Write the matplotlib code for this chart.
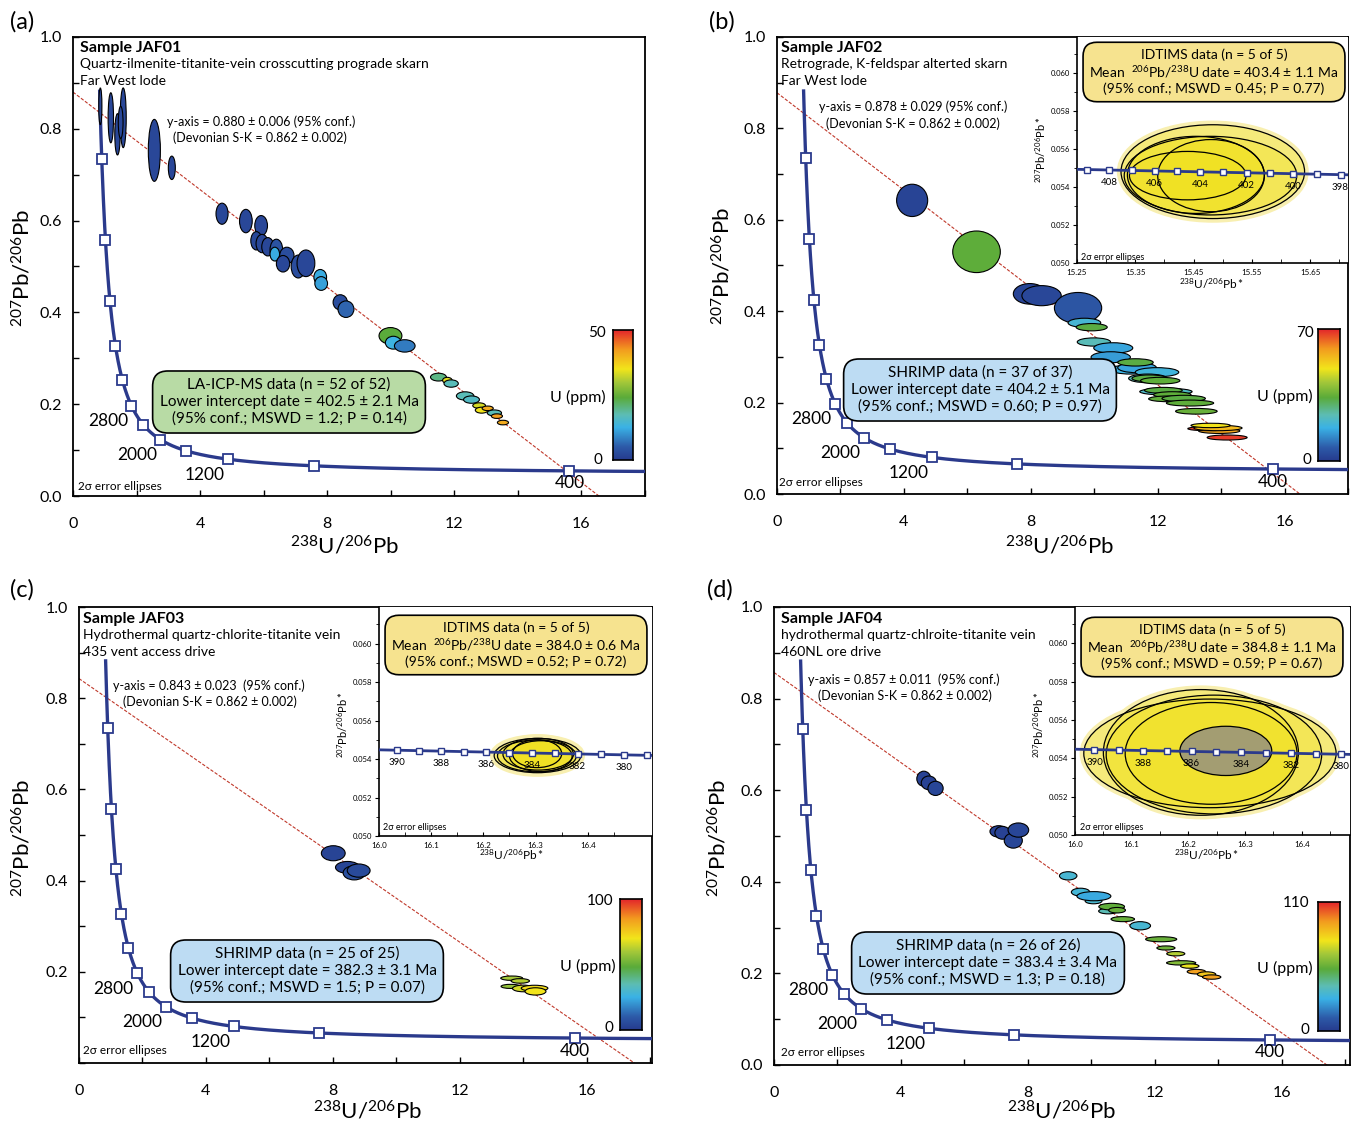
import numpy as np
import matplotlib
matplotlib.use('Agg')
import matplotlib.pyplot as plt
from matplotlib.patches import Ellipse
from matplotlib.colors import LinearSegmentedColormap
from matplotlib.ticker import MultipleLocator, FuncFormatter, FixedLocator

plt.rcParams['font.family'] = ['Lato', 'DejaVu Sans']
plt.rcParams['mathtext.fontset'] = 'custom'
plt.rcParams['mathtext.rm'] = 'Lato'
plt.rcParams['mathtext.it'] = 'Lato:italic'
plt.rcParams['mathtext.bf'] = 'Lato:bold'

# ---------------- DATA ----------------
# Concordia marker ages (Ma) and labelled ages
marker_ages = [400, 800, 1200, 1600, 2000, 2400, 2800, 3200, 3600, 4000, 4400, 4800]
label_ages = [400, 1200, 2000, 2800]

# Panel (a) JAF01, LA-ICP-MS
a_x = [0.86, 1.19, 1.40, 1.58, 1.50, 2.56, 3.11, 4.69, 5.44, 5.92, 5.77, 5.95, 6.13, 6.40, 6.35, 6.73, 6.61, 7.09, 7.33,
       7.78, 7.81, 8.41, 8.59, 9.99, 10.08, 10.44, 11.50, 11.78, 11.90, 12.34, 12.54, 12.78, 12.86, 13.05, 13.26, 13.34, 13.53]
a_y = [0.849, 0.824, 0.788, 0.824, 0.814, 0.753, 0.715, 0.615, 0.599, 0.589, 0.556, 0.550, 0.543, 0.536, 0.527, 0.524, 0.506, 0.500, 0.507,
       0.477, 0.463, 0.422, 0.407, 0.349, 0.334, 0.327, 0.259, 0.252, 0.245, 0.218, 0.210, 0.197, 0.187, 0.191, 0.181, 0.174, 0.160]
a_w = [0.10, 0.17, 0.17, 0.19, 0.15, 0.38, 0.22, 0.38, 0.40, 0.40, 0.35, 0.38, 0.38, 0.40, 0.30, 0.45, 0.42, 0.45, 0.56,
       0.40, 0.40, 0.45, 0.50, 0.72, 0.50, 0.65, 0.50, 0.30, 0.45, 0.55, 0.50, 0.40, 0.40, 0.35, 0.45, 0.35, 0.35]
a_h = [0.080, 0.109, 0.090, 0.130, 0.070, 0.135, 0.051, 0.046, 0.051, 0.044, 0.040, 0.040, 0.040, 0.047, 0.030, 0.036, 0.036, 0.050, 0.058,
       0.033, 0.030, 0.033, 0.036, 0.036, 0.028, 0.027, 0.017, 0.013, 0.016, 0.018, 0.016, 0.012, 0.013, 0.010, 0.013, 0.010, 0.010]
a_u = [2, 2, 2, 2, 2, 2, 2, 2, 2, 2, 2, 2, 2, 4, 12, 3, 2, 3, 2,
       12, 11, 3, 6, 24, 13, 8, 20, 34, 17, 17, 16, 33, 35, 41, 17, 42, 41]

# Panel (b) JAF02, SHRIMP
b_x = [4.26, 6.29, 7.97, 8.34, 9.49, 9.69, 9.92, 9.99, 10.60, 10.52, 11.14, 11.35, 11.30, 11.98, 11.69, 11.74, 12.08,
       12.26, 12.18, 12.46, 12.32, 12.82, 13.02, 13.22, 13.94, 13.58, 13.90, 13.67, 14.19]
b_y = [0.6425, 0.530, 0.438, 0.434, 0.407, 0.3746, 0.365, 0.3326, 0.3195, 0.2993, 0.2724, 0.2764, 0.288, 0.2665, 0.253, 0.253, 0.248,
       0.224, 0.2268, 0.2173, 0.2082, 0.209, 0.199, 0.181, 0.138, 0.143, 0.1444, 0.150, 0.1236]
b_w = [0.98, 1.50, 1.04, 1.24, 1.49, 1.03, 0.98, 1.05, 1.23, 1.24, 1.26, 1.22, 1.12, 1.37, 1.21, 1.10, 1.24,
       1.65, 1.19, 1.18, 1.21, 1.37, 1.49, 1.31, 1.30, 1.26, 1.52, 1.24, 1.26]
b_h = [0.0707, 0.091, 0.045, 0.044, 0.068, 0.020, 0.016, 0.018, 0.023, 0.024, 0.020, 0.022, 0.016, 0.020, 0.019, 0.015, 0.0146,
       0.0146, 0.013, 0.013, 0.0124, 0.014, 0.013, 0.0125, 0.011, 0.009, 0.0118, 0.0096, 0.011]
b_u = [2, 34, 2, 3, 6, 20, 33, 24, 16, 15, 18, 16, 33, 19, 24, 33, 34,
       22, 33, 34, 34, 33, 34, 35, 58, 68, 55, 49, 68]

# Panel (c) JAF03, SHRIMP
c_x = [8.01, 8.46, 8.67, 8.81, 13.63, 13.90, 13.60, 14.00, 14.35, 14.38]
c_y = [0.460, 0.429, 0.417, 0.422, 0.186, 0.180, 0.168, 0.1635, 0.164, 0.157]
c_w = [0.75, 0.76, 0.70, 0.72, 0.69, 0.58, 0.61, 0.69, 0.84, 0.66]
c_h = [0.033, 0.026, 0.031, 0.029, 0.0095, 0.010, 0.009, 0.0146, 0.013, 0.016]
c_u = [3, 3, 7, 5, 60, 62, 57, 66, 72, 70]

# Panel (d) JAF04, SHRIMP
d_x = [4.72, 4.88, 5.09, 7.08, 7.20, 7.54, 7.70, 9.27, 9.66, 10.07, 10.08, 10.53, 10.64, 10.81, 10.99, 11.54,
       12.20, 12.35, 12.66, 12.83, 13.10, 13.31, 13.63, 13.79]
d_y = [0.625, 0.616, 0.604, 0.510, 0.507, 0.490, 0.513, 0.413, 0.3775, 0.358, 0.3686, 0.336, 0.3457, 0.338, 0.3185, 0.304,
       0.2746, 0.2555, 0.243, 0.223, 0.216, 0.2038, 0.198, 0.192]
d_w = [0.44, 0.48, 0.48, 0.55, 0.48, 0.57, 0.65, 0.55, 0.58, 0.53, 1.07, 0.60, 0.81, 0.53, 0.74, 0.65,
       0.98, 0.57, 0.57, 0.92, 0.58, 0.58, 0.58, 0.58]
d_h = [0.033, 0.030, 0.031, 0.025, 0.028, 0.033, 0.031, 0.018, 0.017, 0.012, 0.020, 0.012, 0.0146, 0.012, 0.011, 0.018,
       0.011, 0.009, 0.0095, 0.0095, 0.0095, 0.010, 0.011, 0.0095]
d_u = [3, 3, 4, 3, 3, 4, 4, 32, 31, 33, 26, 38, 54, 55, 55, 32,
       55, 56, 68, 60, 76, 92, 84, 92]

# Discordia: y-intercept and lower-intercept date (Ma)
y_intercepts = [0.880, 0.878, 0.843, 0.857]
lower_dates = [402.5, 404.2, 382.3, 383.4]
u_max = [50, 70, 100, 110]

# IDTIMS insets (b), (c), (d)
ib_x = [15.483, 15.479, 15.454, 15.440, 15.480]
ib_y = [0.05481, 0.05460, 0.05464, 0.05460, 0.05460]
ib_w = [0.315, 0.296, 0.235, 0.200, 0.183]
ib_h = [0.00494, 0.00414, 0.00406, 0.00255, 0.00380]

ic_x = [16.3036, 16.3025, 16.305, 16.310, 16.303]
ic_y = [0.05418, 0.05416, 0.05425, 0.05415, 0.05428]
ic_w = [0.166, 0.151, 0.135, 0.120, 0.094]
ic_h = [0.00178, 0.00165, 0.00165, 0.00160, 0.00145]

id_x = [16.238, 16.222, 16.245, 16.240, 16.266]
id_y = [0.05426, 0.05431, 0.05420, 0.05426, 0.05439]
id_w = [0.445, 0.344, 0.380, 0.303, 0.162]
id_h = [0.00567, 0.00656, 0.00620, 0.00531, 0.00257]

inset_b_ages = list(range(397, 412))
inset_b_labels = [398, 400, 402, 404, 406, 408]
inset_cd_ages = list(range(379, 392))
inset_cd_labels = [380, 382, 384, 386, 388, 390]
inset_b_xticks = [15.25, 15.35, 15.45, 15.55, 15.65]
inset_cd_xticks = [16.0, 16.1, 16.2, 16.3, 16.4]
inset_yticks = [0.050, 0.052, 0.054, 0.056, 0.058, 0.060]

# ---------------- HELPERS ----------------
W, H = 1353, 1128
L238, L235, U85 = 1.55125e-10, 9.8485e-10, 137.88
NAVY = '#2b3a8c'

cmap = LinearSegmentedColormap.from_list('u', [
    (0.00, '#263b8e'), (0.10, '#2d5aa8'), (0.25, '#3ab2e6'), (0.35, '#5dbdb3'),
    (0.48, '#5aab3a'), (0.60, '#a5c839'), (0.70, '#f2e51b'), (0.85, '#f39c1f'), (1.00, '#e3262b')])


def tw(t_ma):
    t = np.asarray(t_ma, dtype=float) * 1e6
    e8 = np.exp(L238 * t) - 1
    e5 = np.exp(L235 * t) - 1
    return 1 / e8, e5 / e8 / U85


def fx(px):
    return px / W


def fy(py):
    return 1 - py / H


def rect(x0, y0, x1, y1):
    return [fx(x0), fy(y1), (x1 - x0) / W, (y1 - y0) / H]


fig = plt.figure(figsize=(W / 100, H / 100), dpi=100)


def ftext(px, py, s, **kw):
    fig.text(fx(px), fy(py), s, **kw)


def main_panel(r, xs, ys, ws, hs, us, umax, y0, lage, xmax, show_zero):
    ax = fig.add_axes(r)
    ax.set_xlim(0, xmax)
    ax.set_ylim(0, 1)
    for s in ax.spines.values():
        s.set_linewidth(1.3)
    ax.xaxis.set_major_locator(MultipleLocator(2))
    ax.yaxis.set_major_locator(MultipleLocator(0.1))
    ax.xaxis.set_major_formatter(FuncFormatter(lambda v, p: f'{int(round(v))}' if int(round(v)) % 4 == 0 else ''))
    ax.yaxis.set_major_formatter(FuncFormatter(
        lambda v, p: (f'{v:.1f}' if (int(round(v * 10)) % 2 == 0 and (show_zero or v > 0.05)) else '')))
    ax.tick_params(direction='in', length=4, width=1, labelsize=11.5)
    ax.tick_params(axis='x', pad=15)
    ax.tick_params(axis='y', pad=8)
    # concordia
    t = np.linspace(60, 5060, 3000)
    cx, cy = tw(t)
    ax.plot(cx, cy, color=NAVY, lw=2.4, zorder=3)
    mx, my = tw(marker_ages)
    ax.plot(mx, my, 's', ms=7, mfc='white', mec=NAVY, mew=1.3, zorder=6, clip_on=False)
    for age in label_ages:
        lx, ly = tw(age)
        off = (0, -9) if age == 400 else (-17, -11)
        ax.annotate(str(age), (lx, ly), xytext=off, textcoords='offset points',
                    ha='center', va='center', fontsize=12.5, zorder=7)
    # discordia
    lx, ly = tw(lage)
    slope = (ly - y0) / lx
    xx = np.array([0, 25])
    ax.plot(xx, y0 + slope * xx, ls=(0, (3, 1.5)), color='#c0392b', lw=0.8, zorder=2)
    # ellipses
    for x, y, w, h, u in zip(xs, ys, ws, hs, us):
        ax.add_patch(Ellipse((x, y), w, h, fc=cmap(u / umax), ec='black', lw=0.8, zorder=5))
    return ax


def inset_panel(r, xs, ys, ws, hs, xlim, ages, labels, xticks, xfmt, grey_last=False):
    ax = fig.add_axes(r, zorder=5)
    ax.set_xlim(*xlim)
    ax.set_ylim(0.050, 0.0619)
    ax.spines['top'].set_visible(False)
    ax.spines['right'].set_visible(False)
    ax.spines['left'].set_linewidth(1.2)
    ax.spines['bottom'].set_linewidth(1.2)
    ax.yaxis.set_major_locator(FixedLocator(inset_yticks))
    ax.yaxis.set_minor_locator(MultipleLocator(0.001))
    ax.yaxis.set_major_formatter(FuncFormatter(lambda v, p: f'{v:.3f}'))
    ax.xaxis.set_major_locator(FixedLocator(xticks))
    step = xticks[1] - xticks[0]
    ax.xaxis.set_minor_locator(FixedLocator([xticks[0] + step * (k + 0.5) for k in range(-1, len(xticks) + 1)]))
    ax.xaxis.set_major_formatter(FuncFormatter(lambda v, p: xfmt.format(v)))
    ax.tick_params(axis='y', which='both', direction='out', labelsize=5.5, pad=2, length=3)
    ax.tick_params(axis='y', which='minor', length=2)
    ax.tick_params(axis='x', which='both', direction='in', labelsize=5.8, pad=4, length=3)
    # halos
    for x, y, w, h in zip(xs, ys, ws, hs):
        ax.add_patch(Ellipse((x, y), w, h, fc='#f8efb0', ec='#f8efb0', lw=6, zorder=1))
    n = len(xs)
    for i, (x, y, w, h) in enumerate(zip(xs, ys, ws, hs)):
        if grey_last and i == n - 1:
            ax.add_patch(Ellipse((x, y), w, h, fc='#a39d72', ec='black', lw=0.9, zorder=3))
        else:
            ax.add_patch(Ellipse((x, y), w, h, fc='#f0e010', alpha=0.33, ec='none', zorder=2))
            ax.add_patch(Ellipse((x, y), w, h, fc='none', ec='black', lw=0.9, zorder=3))
    t = np.linspace(ages[0] - 3, ages[-1] + 3, 200)
    cx, cy = tw(t)
    ax.plot(cx, cy, color=NAVY, lw=2.0, zorder=4)
    mx, my = tw(ages)
    ax.plot(mx, my, 's', ms=3.8, mfc='white', mec=NAVY, mew=1.0, zorder=5)
    for age in labels:
        lx, ly = tw(age)
        ax.annotate(str(age), (lx, ly), xytext=(0, -9), textcoords='offset points',
                    ha='center', va='center', fontsize=7, zorder=6)
    return ax


def colorbar(r, umax, top_xy, zero_xy, lab_xy):
    cax = fig.add_axes(r, zorder=6)
    grad = np.linspace(0, 1, 256).reshape(-1, 1)
    cax.imshow(grad, cmap=cmap, aspect='auto', origin='lower', extent=[0, 1, 0, 1])
    cax.set_xticks([])
    cax.set_yticks([])
    for s in cax.spines.values():
        s.set_linewidth(1.2)
    ftext(*top_xy, str(umax), ha='center', va='center', fontsize=11)
    ftext(*zero_xy, '0', ha='center', va='center', fontsize=11)
    ftext(*lab_xy, 'U (ppm)', ha='center', va='center', fontsize=11.5)


def box(px, py, s, fc, fs=11):
    ftext(px, py, s, ha='center', va='center', fontsize=fs, multialignment='center', linespacing=1.25,
          zorder=20, bbox=dict(boxstyle='round,pad=0.45,rounding_size=1.0', fc=fc, ec='black', lw=1.2))


YLAB = r'$\mathregular{^{207}Pb/^{206}Pb}$'
XLAB = r'$\mathregular{^{238}U/^{206}Pb}$'
IYLAB = r'$\mathregular{^{207}Pb/^{206}Pb*}$'
IXLAB = r'$\mathregular{^{238}U/^{206}Pb*}$'
GREEN, BLUE, YEL = '#b8dba5', '#bddcf3', '#f6e38f'

# ---------------- PANEL (a) ----------------
main_panel(rect(73, 37, 645, 496), a_x, a_y, a_w, a_h, a_u, u_max[0], y_intercepts[0], lower_dates[0], 18.0, True)
ftext(22, 22, '(a)', ha='center', va='center', fontsize=17)
ftext(22, 268, YLAB, rotation=90, ha='center', va='center', fontsize=16)
ftext(345, 546, XLAB, ha='center', va='center', fontsize=16)
ftext(80, 48, 'Sample JAF01', fontweight='bold', fontsize=11.5, va='center')
ftext(80, 64, 'Quartz-ilmenite-titanite-vein crosscutting prograde skarn', fontsize=10, va='center')
ftext(80, 81, 'Far West lode', fontsize=10, va='center')
ftext(167, 122, 'y-axis = 0.880 ± 0.006 (95% conf.)', fontsize=9, va='center')
ftext(173, 138, '(Devonian S-K = 0.862 ± 0.002)', fontsize=9, va='center')
ftext(78, 486, '2σ error ellipses', fontsize=8.5, va='center')
box(289, 402, 'LA-ICP-MS data (n = 52 of 52)\nLower intercept date = 402.5 ± 2.1 Ma\n(95% conf.; MSWD = 1.2; P = 0.14)', GREEN)
colorbar(rect(613, 330, 633, 460), u_max[0], (597, 333), (598, 460), (578, 397))

# ---------------- PANEL (b) ----------------
main_panel(rect(777, 37, 1348, 494), b_x, b_y, b_w, b_h, b_u, u_max[1], y_intercepts[1], lower_dates[1], 18.0, True)
ftext(722, 22, '(b)', ha='center', va='center', fontsize=17)
ftext(722, 266, YLAB, rotation=90, ha='center', va='center', fontsize=16)
ftext(1060, 546, XLAB, ha='center', va='center', fontsize=16)
ftext(781, 48, 'Sample JAF02', fontweight='bold', fontsize=11.5, va='center')
ftext(781, 64, 'Retrograde, K-feldspar alterted skarn', fontsize=10, va='center')
ftext(781, 81, 'Far West lode', fontsize=10, va='center')
ftext(819, 107, 'y-axis = 0.878 ± 0.029 (95% conf.)', fontsize=9, va='center')
ftext(826, 124, '(Devonian S-K = 0.862 ± 0.002)', fontsize=9, va='center')
ftext(779, 483, '2σ error ellipses', fontsize=8.5, va='center')
box(980, 390, 'SHRIMP data (n = 37 of 37)\nLower intercept date = 404.2 ± 5.1 Ma\n(95% conf.; MSWD = 0.60; P = 0.97)', BLUE)
colorbar(rect(1318, 329, 1340, 461), u_max[1], (1305, 333), (1307, 460), (1285, 396))
inset_panel(rect(1077, 37, 1348, 263), ib_x, ib_y, ib_w, ib_h, (15.25, 15.715), inset_b_ages, inset_b_labels,
            inset_b_xticks, '{:.2f}')
ftext(1041, 150, IYLAB, rotation=90, ha='center', va='center', fontsize=8)
ftext(1212, 284, IXLAB, ha='center', va='center', fontsize=8.5)
ftext(1081, 257, '2σ error ellipses', fontsize=6.5, va='center', zorder=20)
box(1214, 72, 'IDTIMS data (n = 5 of 5)\nMean  $\\mathregular{^{206}}$Pb/$\\mathregular{^{238}}$U date = 403.4 ± 1.1 Ma\n(95% conf.; MSWD = 0.45; P = 0.77)', YEL, fs=10)

# ---------------- PANEL (c) ----------------
main_panel(rect(79, 607, 652, 1063), c_x, c_y, c_w, c_h, c_u, u_max[2], y_intercepts[2], lower_dates[2], 18.05, False)
ftext(22, 590, '(c)', ha='center', va='center', fontsize=17)
ftext(22, 838, YLAB, rotation=90, ha='center', va='center', fontsize=16)
ftext(368, 1111, XLAB, ha='center', va='center', fontsize=16)
ftext(83, 619, 'Sample JAF03', fontweight='bold', fontsize=11.5, va='center')
ftext(83, 635, 'Hydrothermal quartz-chlorite-titanite vein', fontsize=10, va='center')
ftext(83, 652, '435 vent access drive', fontsize=10, va='center')
ftext(113, 686, 'y-axis = 0.843 ± 0.023  (95% conf.)', fontsize=9, va='center')
ftext(123, 702, '(Devonian S-K = 0.862 ± 0.002)', fontsize=9, va='center')
ftext(83, 1051, '2σ error ellipses', fontsize=8.5, va='center')
box(307, 971, 'SHRIMP data (n = 25 of 25)\nLower intercept date = 382.3 ± 3.1 Ma\n(95% conf.; MSWD = 1.5; P = 0.07)', BLUE)
colorbar(rect(620, 899, 642, 1030), u_max[2], (600, 901), (609, 1028), (588, 966))
inset_panel(rect(379, 607, 652, 836), ic_x, ic_y, ic_w, ic_h, (16.0, 16.523), inset_cd_ages, inset_cd_labels,
            inset_cd_xticks, '{:.1f}')
ftext(343, 725, IYLAB, rotation=90, ha='center', va='center', fontsize=8)
ftext(512, 855, IXLAB, ha='center', va='center', fontsize=8.5)
ftext(383, 828, '2σ error ellipses', fontsize=6.5, va='center', zorder=20)
box(516, 645, 'IDTIMS data (n = 5 of 5)\nMean  $\\mathregular{^{206}}$Pb/$\\mathregular{^{238}}$U date = 384.0 ± 0.6 Ma\n(95% conf.; MSWD = 0.52; P = 0.72)', YEL, fs=10)

# ---------------- PANEL (d) ----------------
main_panel(rect(774, 607, 1350, 1065), d_x, d_y, d_w, d_h, d_u, u_max[3], y_intercepts[3], lower_dates[3], 18.15, True)
ftext(720, 590, '(d)', ha='center', va='center', fontsize=17)
ftext(718, 838, YLAB, rotation=90, ha='center', va='center', fontsize=16)
ftext(1062, 1111, XLAB, ha='center', va='center', fontsize=16)
ftext(781, 619, 'Sample JAF04', fontweight='bold', fontsize=11.5, va='center')
ftext(781, 635, 'hydrothermal quartz-chlroite-titanite vein', fontsize=10, va='center')
ftext(781, 652, '460NL ore drive', fontsize=10, va='center')
ftext(808, 680, 'y-axis = 0.857 ± 0.011  (95% conf.)', fontsize=9, va='center')
ftext(818, 696, '(Devonian S-K = 0.862 ± 0.002)', fontsize=9, va='center')
ftext(781, 1052, '2σ error ellipses', fontsize=8.5, va='center')
box(988, 963, 'SHRIMP data (n = 26 of 26)\nLower intercept date = 383.4 ± 3.4 Ma\n(95% conf.; MSWD = 1.3; P = 0.18)', BLUE)
colorbar(rect(1318, 902, 1340, 1031), u_max[3], (1296, 903), (1305, 1030), (1285, 968))
inset_panel(rect(1075, 607, 1350, 835), id_x, id_y, id_w, id_h, (16.0, 16.485), inset_cd_ages, inset_cd_labels,
            inset_cd_xticks, '{:.1f}', grey_last=True)
ftext(1039, 725, IYLAB, rotation=90, ha='center', va='center', fontsize=8)
ftext(1207, 855, IXLAB, ha='center', va='center', fontsize=8.5)
ftext(1080, 828, '2σ error ellipses', fontsize=6.5, va='center', zorder=20)
box(1212, 647, 'IDTIMS data (n = 5 of 5)\nMean  $\\mathregular{^{206}}$Pb/$\\mathregular{^{238}}$U date = 384.8 ± 1.1 Ma\n(95% conf.; MSWD = 0.59; P = 0.67)', YEL, fs=10)

fig.savefig('out.png', dpi=100)
